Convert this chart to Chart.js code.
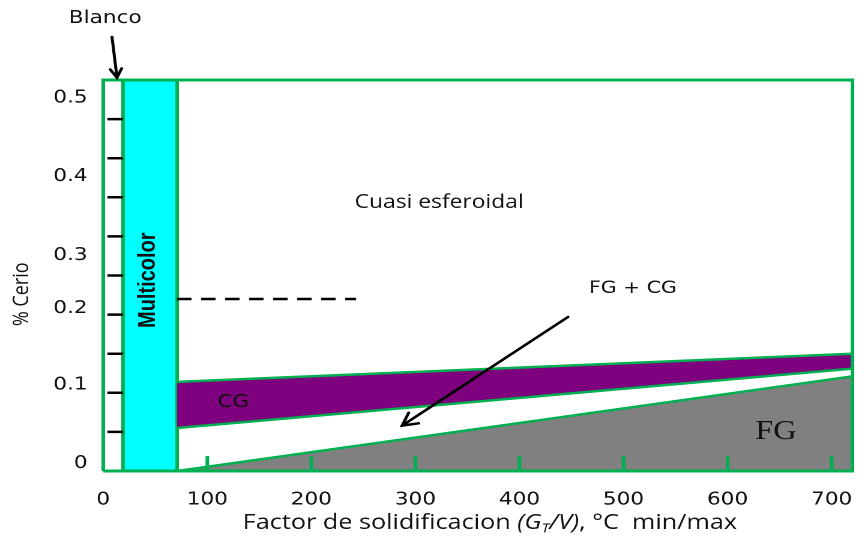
<!DOCTYPE html>
<html>
<head>
<meta charset="utf-8">
<script src="https://cdn.jsdelivr.net/npm/chart.js@4.4.1/dist/chart.umd.min.js"></script>
<style>
  html, body { margin: 0; padding: 0; background: #fff; overflow: hidden; }
  #wrap { width: 723px; height: 538px; transform: scaleX(1.2006); transform-origin: 0 0; }
</style>
</head>
<body>
<div id="wrap"><canvas id="c"></canvas></div>
<script>
// ---- data ----
const xTickValues = [0, 100, 200, 300, 400, 500, 600, 700];
const yTickLabels = ['0', '0.1', '0.2', '0.3', '0.4', '0.5'];
const yTickAt     = [0.010, 0.110, 0.208, 0.276, 0.377, 0.477];
const yMinorTicks = [0.05, 0.10, 0.15, 0.20, 0.25, 0.30, 0.35, 0.40, 0.45];
const xMax = 720, yMax = 0.5;
const blancoX     = [0, 19];
const multicolorX = [19, 71];
const cgUpperX = [71, 720], cgUpperY = [0.114, 0.150];
const cgLowerX = [71, 720], cgLowerY = [0.055, 0.131];
const fgX = [71, 720], fgY = [0, 0.121];
const dashedX = [71, 243], dashedY = 0.22;
const xMarkLen = 0.019;

// ---- styles ----
const GREEN = '#00B050', CYAN = '#00FFFF', PURPLE = '#7F007F', GRAY = '#808080';

const pts = (xs, ys) => xs.map((x, i) => ({x, y: ys[i]}));
const minorY = [];
yMinorTicks.forEach(v => { minorY.push({x: 4, y: v}, {x: blancoX[1], y: v}, {x: blancoX[1], y: null}); });
const minorX = [];
xTickValues.filter(v => v > 0).forEach(v => { minorX.push({x: v, y: 0}, {x: v, y: xMarkLen}, {x: v, y: null}); });

const base = {showLine: true, pointRadius: 0, pointHoverRadius: 0, fill: false, borderColor: GREEN, borderWidth: 2.5};

const datasets = [
  Object.assign({}, base, {label: 'frame', order: 0, borderWidth: 3, clip: false,
    data: [{x: 0, y: 0}, {x: 0, y: yMax}, {x: xMax, y: yMax}, {x: xMax, y: 0}, {x: 0, y: 0}]}),
  Object.assign({}, base, {label: 'xmarks', order: 1, borderWidth: 3, borderCapStyle: 'butt', data: minorX}),
  Object.assign({}, base, {label: 'ymarks', order: 2, borderColor: '#000', borderWidth: 2.5, data: minorY}),
  Object.assign({}, base, {label: 'CG', order: 4, fill: '+1', backgroundColor: PURPLE, data: pts(cgUpperX, cgUpperY)}),
  Object.assign({}, base, {label: 'CG low', order: 3, data: pts(cgLowerX, cgLowerY)}),
  Object.assign({}, base, {label: 'FG', order: 5, fill: 'origin', backgroundColor: GRAY, data: pts(fgX, fgY)}),
  Object.assign({}, base, {label: 'dash', order: 3, borderColor: '#000', borderWidth: 2.5, borderDash: [12, 8],
    data: pts(dashedX, [dashedY, dashedY])}),
  Object.assign({}, base, {label: 'Multicolor', order: 6, fill: 'origin', backgroundColor: CYAN, borderWidth: 3,
    data: [{x: multicolorX[0], y: 0}, {x: multicolorX[0], y: yMax}, {x: multicolorX[1], y: yMax}, {x: multicolorX[1], y: 0}]})
];

const notes = {
  texts: [
    {t: 'Blanco', x: 1.9, y: 0.579, font: '18px "DejaVu Sans"'},
    {t: 'Cuasi esferoidal', x: 322.8, y: 0.343, font: '19px "Open Sans"'},
    {t: 'FG + CG', x: 509, y: 0.233, font: '17px "DejaVu Sans"'},
    {t: 'CG', x: 125, y: 0.088, font: '18px "DejaVu Sans"'},
    {t: 'FG', x: 646.5, y: 0.050, font: '27px "Liberation Serif"'},
    {t: 'Multicolor', x: 43.2, y: 0.244, font: 'bold 20px "Liberation Sans"', rot: -Math.PI / 2}
  ],
  arrows: [
    {from: [8.4, 0.555], to: [13.2, 0.503], head: 10},
    {from: [446.7, 0.197], to: [287.2, 0.058], head: 14}
  ]
};

const notesPlugin = {
  id: 'notes',
  afterDatasetsDraw(chart) {
    const {ctx, scales: {x, y}, chartArea} = chart;
    ctx.save();
    ctx.fillStyle = '#111';
    ctx.textAlign = 'center';
    ctx.textBaseline = 'middle';
    notes.texts.forEach(n => {
      ctx.save();
      ctx.font = n.font;
      ctx.translate(x.getPixelForValue(n.x), y.getPixelForValue(n.y));
      if (n.rot) ctx.rotate(n.rot);
      ctx.fillText(n.t, 0, 0);
      ctx.restore();
    });
    ctx.strokeStyle = '#000';
    ctx.lineWidth = 2.5;
    ctx.lineCap = 'round';
    notes.arrows.forEach(a => {
      const x1 = x.getPixelForValue(a.from[0]), y1 = y.getPixelForValue(a.from[1]);
      const x2 = x.getPixelForValue(a.to[0]), y2 = y.getPixelForValue(a.to[1]);
      const ang = Math.atan2(y2 - y1, x2 - x1);
      ctx.beginPath();
      ctx.moveTo(x1, y1); ctx.lineTo(x2, y2);
      ctx.moveTo(x2 - a.head * Math.cos(ang - 0.5), y2 - a.head * Math.sin(ang - 0.5));
      ctx.lineTo(x2, y2);
      ctx.lineTo(x2 - a.head * Math.cos(ang + 0.5), y2 - a.head * Math.sin(ang + 0.5));
      ctx.stroke();
    });
    // y axis title
    ctx.save();
    ctx.font = '18px "Open Sans"';
    ctx.translate(chartArea.left - 67.5, y.getPixelForValue(0.226));
    ctx.rotate(-Math.PI / 2);
    ctx.fillText('% Cerio', 0, 0);
    ctx.restore();
    // x axis title with italic part and subscript
    const segs = [
      {t: 'Factor de solidificacion ', f: '21px "Open Sans"', dy: 0},
      {t: '(G', f: 'italic 21px "Open Sans"', dy: 0},
      {t: 'T', f: 'italic 13px "Open Sans"', dy: 6},
      {t: '/V)', f: 'italic 21px "Open Sans"', dy: 0},
      {t: ', °C  min/max', f: '21px "Open Sans"', dy: 0}
    ];
    let total = 0;
    segs.forEach(s => { ctx.font = s.f; s.w = ctx.measureText(s.t).width; total += s.w; });
    let cx = 408 - total / 2;
    const cy = chartArea.bottom + 52;
    ctx.textAlign = 'left';
    segs.forEach(s => { ctx.font = s.f; ctx.fillText(s.t, cx, cy + s.dy); cx += s.w; });
    ctx.restore();
  }
};

new Chart(document.getElementById('c'), {
  type: 'scatter',
  data: {datasets},
  options: {
    responsive: true,
    maintainAspectRatio: false,
    devicePixelRatio: 2,
    animation: false,
    layout: {padding: {top: 80, right: 13, left: 0, bottom: 0}},
    plugins: {legend: {display: false}, tooltip: {enabled: false}},
    events: [],
    scales: {
      x: {
        type: 'linear', min: 0, max: xMax,
        afterFit: s => { s.height = 67; s.paddingLeft = 0; s.paddingRight = 0; },
        afterBuildTicks: s => { s.ticks = xTickValues.map(v => ({value: v})); },
        grid: {display: false, drawTicks: false},
        border: {display: false},
        ticks: {font: {family: 'DejaVu Sans', size: 18}, color: '#111', padding: 18, maxRotation: 0}
      },
      y: {
        type: 'linear', min: 0, max: yMax,
        afterFit: s => { s.width = 86; s.paddingTop = 0; s.paddingBottom = 0; },
        afterBuildTicks: s => { s.ticks = yTickAt.map(v => ({value: v})); },
        grid: {display: false, drawTicks: false},
        border: {display: false},
        ticks: {font: {family: 'DejaVu Sans', size: 18}, color: '#111', padding: 13,
          callback: (v, i) => yTickLabels[i]}
      }
    }
  },
  plugins: [notesPlugin]
});
</script>
</body>
</html>
